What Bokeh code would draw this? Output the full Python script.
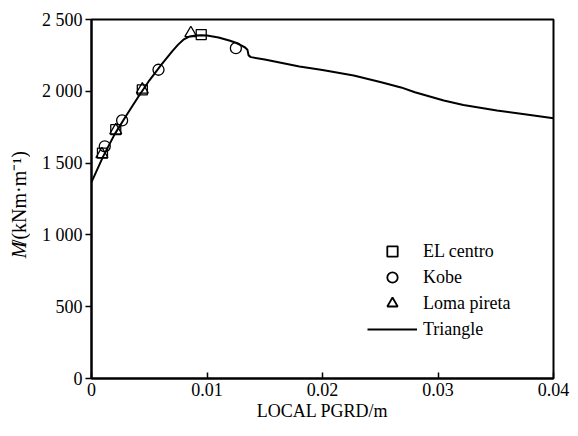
import math
from bokeh.plotting import figure
from bokeh.layouts import row
from bokeh.models import (FixedTicker, Legend, LegendItem, Label, Range1d)
from bokeh.embed import file_html
from bokeh.resources import INLINE

# Bending moment vs. local PGRD (triangle model curve and three earthquake records)
triangle_x = [0.0, 0.001, 0.002, 0.003, 0.004, 0.005, 0.006, 0.007, 0.0075, 0.008,
              0.0085, 0.009, 0.0095, 0.010, 0.011, 0.012, 0.0125, 0.013, 0.0133,
              0.0135, 0.0136, 0.0138, 0.015, 0.018, 0.020, 0.0227, 0.025, 0.0268,
              0.028, 0.0305, 0.0322, 0.0351, 0.0375, 0.040]
triangle_m = [1367, 1545, 1700, 1830, 1955, 2075, 2180, 2280, 2325, 2362,
              2382, 2389, 2390, 2388, 2375, 2352, 2338, 2318, 2305,
              2290, 2250, 2238, 2222, 2172, 2148, 2110, 2065, 2027,
              1993, 1936, 1905, 1866, 1840, 1812]

elcentro_x = [0.00095, 0.0021, 0.0044, 0.0095]
elcentro_m = [1570, 1733, 2010, 2395]

kobe_x = [0.00115, 0.00265, 0.0058, 0.0125]
kobe_m = [1617, 1797, 2150, 2300]

loma_x = [0.0009, 0.0021, 0.0044, 0.0086]
loma_m = [1562, 1728, 2012, 2405]

x_ticks = [0, 0.01, 0.02, 0.03, 0.04]
x_tick_labels = ["0", "0.01", "0.02", "0.03", "0.04"]
y_ticks = [0, 500, 1000, 1500, 2000, 2500]
y_tick_labels = ["0", "500", "1 000", "1 500", "2 000", "2 500"]

FONT = "'Liberation Serif', 'Times New Roman', serif"
W_TOTAL, H_TOTAL = 578, 436
W_TITLE = 30  # narrow strip holding the vertical y title

# Strip for the y-axis title (pixel-like coordinates)
ylab = figure(width=W_TITLE, height=H_TOTAL, output_backend="svg", toolbar_location=None,
              x_range=Range1d(0, W_TITLE), y_range=Range1d(0, H_TOTAL),
              x_axis_location=None, y_axis_location=None,
              min_border_left=0, min_border_right=0, min_border_top=0, min_border_bottom=0)
ylab.outline_line_color = None
ylab.xgrid.visible = False
ylab.ygrid.visible = False
ylab.border_fill_color = "white"
ylab.background_fill_color = "white"
ylab.add_layout(Label(x=18, y=146, text="M", angle=math.pi / 2,
                      text_font=FONT, text_font_size="20px", text_font_style="italic",
                      text_align="left", text_baseline="middle", text_color="black"))
ylab.add_layout(Label(x=18, y=162, text="/(kNm\u00b7m\u207b\u00b9)", angle=math.pi / 2,
                      text_font=FONT, text_font_size="20px",
                      text_align="left", text_baseline="middle", text_color="black"))

p = figure(width=W_TOTAL - W_TITLE, height=H_TOTAL, output_backend="svg", toolbar_location=None,
           x_range=Range1d(0, 0.04), y_range=Range1d(0, 2500),
           min_border_left=91 - W_TITLE, min_border_right=25, min_border_top=19,
           min_border_bottom=58)
p.background_fill_color = "white"
p.border_fill_color = "white"
p.outline_line_color = "black"
p.outline_line_width = 2
p.xgrid.visible = False
p.ygrid.visible = False

line_r = p.line(triangle_x, triangle_m, line_color="black", line_width=2)
p.scatter(elcentro_x, elcentro_m, marker="square", size=10,
          fill_color=None, line_color="black", line_width=1.3)
p.scatter(kobe_x, kobe_m, marker="circle", size=11,
          fill_color=None, line_color="black", line_width=1.3)
p.scatter(loma_x, loma_m, marker="triangle", size=12,
          fill_color=None, line_color="black", line_width=1.3)

# Legend keys: one point each, placed outside the visible range so only the key shows
sq_key = p.scatter([-1], [-1], marker="square", size=8,
                   fill_color=None, line_color="black", line_width=1.8)
ci_key = p.scatter([-1], [-1], marker="circle", size=8,
                   fill_color=None, line_color="black", line_width=1.8)
tr_key = p.scatter([-1], [-1], marker="triangle", size=9,
                   fill_color=None, line_color="black", line_width=1.8)

# Axes
p.xaxis.ticker = FixedTicker(ticks=x_ticks)
p.xaxis.major_label_overrides = dict(zip(x_ticks, x_tick_labels))
p.yaxis.ticker = FixedTicker(ticks=y_ticks)
p.yaxis.major_label_overrides = dict(zip(y_ticks, y_tick_labels))
for ax in (p.xaxis, p.yaxis):
    ax.axis_line_color = "black"
    ax.axis_line_width = 2
    ax.major_tick_line_color = "black"
    ax.major_tick_line_width = 1.5
    ax.minor_tick_line_color = None
    ax.major_label_text_font = FONT
    ax.major_label_text_font_size = "18px"
    ax.major_label_text_color = "black"
    ax.axis_label_text_font = FONT
    ax.axis_label_text_font_size = "18px"
    ax.axis_label_text_font_style = "normal"
    ax.axis_label_text_color = "black"

p.xaxis.major_tick_in = 6
p.xaxis.major_tick_out = 0
p.xaxis.major_label_standoff = 4
p.xaxis.axis_label = "LOCAL PGRD/m"
p.xaxis.axis_label_standoff = 2

p.yaxis.major_tick_in = 0
p.yaxis.major_tick_out = 6
p.yaxis.major_label_standoff = 3

legend = Legend(items=[
    LegendItem(label="EL centro", renderers=[sq_key]),
    LegendItem(label="Kobe", renderers=[ci_key]),
    LegendItem(label="Loma pireta", renderers=[tr_key]),
    LegendItem(label="Triangle", renderers=[line_r]),
], location=(276, 36))
legend.border_line_alpha = 0
legend.background_fill_alpha = 0
legend.padding = 0
legend.margin = 0
legend.spacing = 0
legend.glyph_width = 50
legend.glyph_height = 26
legend.label_height = 26
legend.label_standoff = 6
legend.label_text_font = FONT
legend.label_text_font_size = "18px"
legend.label_text_color = "black"
p.add_layout(legend)

layout = row(ylab, p, spacing=0)
open("out.html", "w").write(file_html(layout, INLINE))
